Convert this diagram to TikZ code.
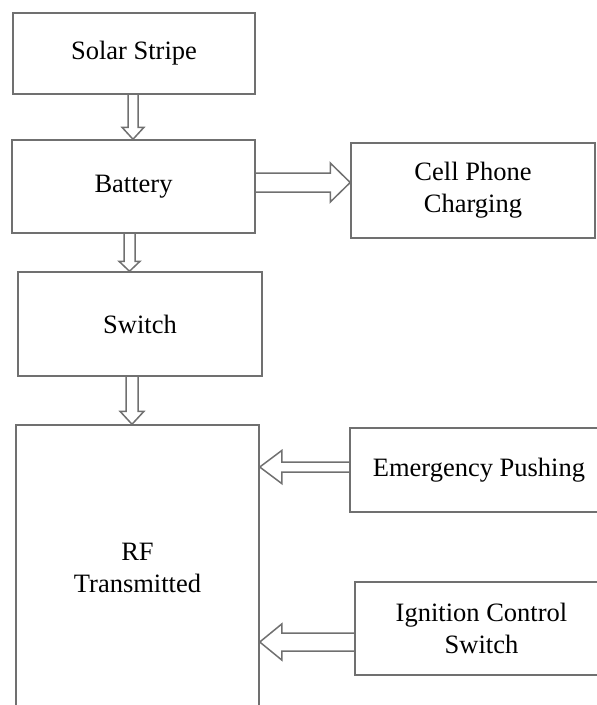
\documentclass[tikz,border=0pt]{standalone}
\usepackage{fontspec}
\setmainfont{Liberation Serif}
\usetikzlibrary{calc}
\definecolor{edgegray}{RGB}{112,112,112}

% hollow block arrow: from, to, half shaft width, half head width, head length
\newcommand\hollowarrow[5]{%
  \coordinate (ha) at (#1);
  \coordinate (hb) at (#2);
  \coordinate (hh) at ($(hb)!#5!(ha)$);
  \draw[arrowline]
    ($(ha)!#3!90:(hb)$) -- ($(hh)!#3!90:(hb)$) -- ($(hh)!#4!90:(hb)$)
    -- (hb)
    -- ($(hh)!#4!-90:(hb)$) -- ($(hh)!#3!-90:(hb)$) -- ($(ha)!#3!-90:(hb)$);
}

\begin{document}
\begin{tikzpicture}[x=1pt,y=-1pt,
  block/.style={draw=edgegray, line width=1.5pt, fill=white, rectangle,
    inner sep=0pt, align=center, font=\fontsize{26.5}{32}\selectfont},
  arrowline/.style={draw=edgegray, line width=1.5pt, line join=miter}]
\useasboundingbox (0,0) rectangle (597,705);
\clip (0,0) rectangle (597,705);

\node[block, minimum width=242pt, minimum height=81pt] (solar) at (134,53.5) {Solar Stripe};
\node[block, minimum width=243pt, minimum height=93pt] (battery) at (133.5,186.5) {Battery};
\node[block, minimum width=244pt, minimum height=95pt] (cell) at (473,190.5) {Cell Phone\\Charging};
\node[block, minimum width=244pt, minimum height=104pt] (switch) at (140,324) {Switch};
\node[block, minimum width=243pt, minimum height=286pt] (rf) at (137.5,568) {RF\\Transmitted};
\node[block, minimum width=258pt, minimum height=84pt] (emerg) at (479,470) {Emergency Pushing};
\node[block, minimum width=253pt, minimum height=93pt] (ign) at (481.5,628.5) {Ignition Control\\Switch};

\coordinate (a1) at ([xshift=-1pt]solar.south);
\hollowarrow{a1}{a1 |- battery.north}{5pt}{11pt}{12pt}
\coordinate (a2) at ([xshift=-4pt]battery.south);
\hollowarrow{a2}{a2 |- switch.north}{5.5pt}{10.5pt}{10pt}
\coordinate (a3) at ([xshift=-8pt]switch.south);
\hollowarrow{a3}{a3 |- rf.north}{6pt}{12pt}{13pt}
\coordinate (a4) at ([yshift=4pt]battery.east);
\hollowarrow{a4}{a4 -| cell.west}{9.5pt}{19.5pt}{20pt}
\coordinate (a5) at ([yshift=3pt]emerg.west);
\hollowarrow{a5}{a5 -| rf.east}{5pt}{16.5pt}{22pt}
\coordinate (a6) at ([yshift=-13.5pt]ign.west);
\hollowarrow{a6}{a6 -| rf.east}{9pt}{18pt}{22pt}
\end{tikzpicture}
\end{document}
